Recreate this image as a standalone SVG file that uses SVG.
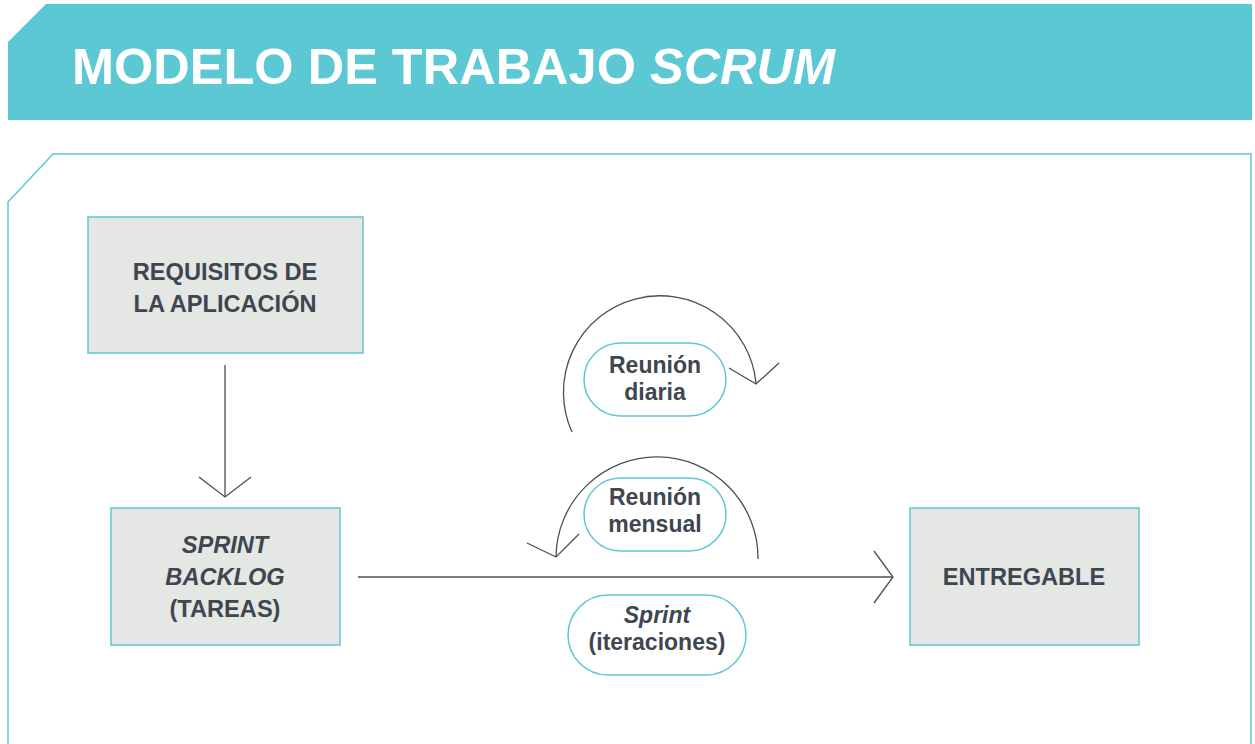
<svg xmlns="http://www.w3.org/2000/svg" width="1255" height="744" viewBox="0 0 1255 744">
<defs>
<style>
.t{font-family:"Liberation Sans",Arial,Helvetica,sans-serif;font-weight:bold;fill:#3e4650;text-anchor:middle;font-size:23px}
.b{font-size:23.6px}
.it{font-style:italic}
.box{fill:#e5e7e5;stroke:#5bc8d4;stroke-width:1.5}
.pill{fill:#ffffff;stroke:#5bc8d4;stroke-width:1.5}
.ln{fill:none;stroke:#4a4f56;stroke-width:1.3}
</style>
</defs>
<rect x="0" y="0" width="1255" height="744" fill="#ffffff"/>
<g id="header">
<polygon points="8,42 46,4 1252,4 1252,120 8,120" fill="#5bc8d4"/>
<text x="72" y="84" font-family="Liberation Sans,Arial,sans-serif" font-weight="bold" font-size="50.5" fill="#ffffff">MODELO DE TRABAJO <tspan font-style="italic">SCRUM</tspan></text>
</g>
<g id="panel">
<path d="M8,744 L8,202 L53,154 L1251,154 L1251,744" fill="none" stroke="#5bc8d4" stroke-width="1.5"/>
</g>
<g id="connectors">
<line class="ln" x1="225" y1="365" x2="225" y2="497"/>
<polyline class="ln" points="199,477 225,497 251,477"/>
<line class="ln" x1="358" y1="577" x2="893" y2="577"/>
<polyline class="ln" points="874,551 893,577 874,603"/>
<path class="ln" d="M572,432 A96.5,96.5 0 1 1 756,383"/>
<polyline class="ln" points="729,368 756,384 779,363"/>
<path class="ln" d="M758,559 A101,101 0 1 0 556,557"/>
<polyline class="ln" points="527,543 556,557 579,534"/>
</g>
<g id="requisitos">
<rect class="box" x="88" y="217" width="275" height="136"/>
<text class="t b" x="225" y="280">REQUISITOS DE</text>
<text class="t b" x="225" y="312">LA APLICACIÓN</text>
</g>
<g id="sprint-backlog">
<rect class="box" x="111" y="508" width="229" height="137"/>
<text class="t b it" x="225" y="553">SPRINT</text>
<text class="t b it" x="225" y="585">BACKLOG</text>
<text class="t b" x="225" y="617">(TAREAS)</text>
</g>
<g id="entregable">
<rect class="box" x="910" y="508" width="229" height="137"/>
<text class="t b" x="1024" y="585">ENTREGABLE</text>
</g>
<g id="reunion-diaria">
<rect class="pill" x="584" y="343" width="142" height="73" rx="36.5"/>
<text class="t" x="655" y="373">Reunión</text>
<text class="t" x="655" y="400">diaria</text>
</g>
<g id="reunion-mensual">
<rect class="pill" x="584" y="478" width="142" height="73" rx="36.5"/>
<text class="t" x="655" y="505">Reunión</text>
<text class="t" x="655" y="532">mensual</text>
</g>
<g id="sprint">
<rect class="pill" x="568" y="595" width="178" height="80" rx="40"/>
<text class="t it" x="657" y="623">Sprint</text>
<text class="t" x="657" y="650">(iteraciones)</text>
</g>
</svg>
